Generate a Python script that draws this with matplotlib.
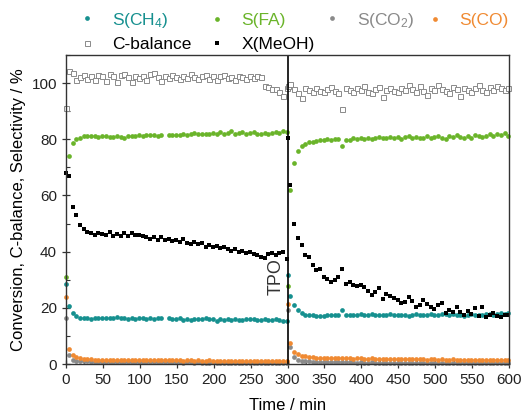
import numpy as np
import matplotlib
matplotlib.use("Agg")
import matplotlib.pyplot as plt

plt.rcParams['font.family'] = ['Liberation Sans', 'DejaVu Sans']
plt.rcParams['mathtext.fontset'] = 'custom'
plt.rcParams['mathtext.rm'] = 'Liberation Sans'
plt.rcParams['mathtext.it'] = 'Liberation Sans:italic'

# ---- time axes (min) ----
t1 = [0.5] + list(range(4, 300, 5))
t2 = [300.5] + list(range(304, 600, 5))

# ---- segment 1 (0-300 min) ----
meoh1 = [68.0, 67.0, 55.8, 53.0, 49.5, 48.0, 47.0, 46.5, 46.0, 46.8,
         46.2, 45.8, 46.9, 45.7, 46.4, 45.6, 46.8, 45.5, 46.6, 45.9,
         45.8, 45.7, 45.2, 44.6, 45.3, 44.2, 45.1, 44.0, 44.6, 43.9,
         44.3, 43.5, 44.5, 43.2, 42.8, 43.6, 42.6, 42.9, 41.8, 42.4,
         41.6, 41.9, 41.2, 41.7, 40.8, 40.4, 41.0, 40.0, 40.3, 39.6,
         39.8, 39.3, 38.8, 38.2, 37.9, 39.2, 39.5, 38.8, 39.6, 39.7,
         37.5]
cbal1 = [91.0, 104.3, 103.6, 101.2, 102.0, 102.8, 101.6, 102.5, 101.0, 103.0,
         102.4, 100.6, 103.2, 102.6, 100.5, 102.8, 103.1, 102.2, 100.4, 102.5,
         101.8, 102.7, 101.2, 103.4, 103.6, 102.3, 100.9, 102.5, 101.8, 103.0,
         102.1, 101.5, 102.6, 101.9, 103.2, 102.0, 101.4, 102.7, 103.0, 101.6,
         102.4, 101.2, 102.5, 102.9, 101.7, 102.3, 101.1, 102.6, 102.0, 101.4,
         102.7, 101.8, 102.5, 102.2, 99.0, 98.6, 97.8, 97.9, 96.8, 95.5,
         98.4]
fa1 = [31.0, 74.0, 78.5, 80.2, 80.6, 81.0, 81.2, 81.1, 81.0, 80.9,
       81.1, 81.0, 80.8, 80.7, 81.1, 80.9, 80.6, 81.0, 81.2, 81.3,
       81.4, 81.2, 81.5, 81.4, 81.6, 81.3, 81.4, np.nan, 81.5, 81.4,
       81.6, 81.5, 81.8, 81.6, 81.9, 82.3, 81.8, 81.7, 82.0, 81.9,
       82.2, 82.0, 82.7, 81.8, 82.1, 82.9, 82.0, 82.3, 82.5, 81.9,
       82.2, 82.6, 82.0, 81.8, 82.4, 82.0, 82.3, 82.6, 82.4, 82.8,
       82.7]
ch4_1 = [28.5, 20.7, 18.2, 17.1, 16.4, 16.2, 16.3, 16.1, 16.4, 16.3,
         16.2, 16.4, 16.5, 16.3, 16.6, 16.4, 16.2, 16.0, 16.3, 16.1,
         16.2, 16.4, 16.0, 16.2, 16.1, 16.3, 16.2, np.nan, 16.3, 15.9,
         16.0, 16.2, 15.8, 16.0, 15.5, 16.1, 15.9, 16.0, 16.3, 15.9,
         16.1, 15.3, 16.0, 15.8, 16.0, 15.7, 15.9, 15.6, 15.8, 15.9,
         16.1, 15.9, 15.7, 15.8, 16.0, 15.7, 15.8, 15.9, 15.6, 15.4,
         15.2]
co1 = [24.0, 5.2, 3.1, 2.4, 2.0, 1.8, 1.7, 1.7, 1.6, 1.6,
       1.5, 1.6, 1.5, 1.5, 1.4, 1.5, 1.4, 1.5, 1.4, 1.4,
       1.5, 1.4, 1.3, 1.4, 1.4, 1.3, 1.4, 1.3, 1.3, 1.4,
       1.3, 1.3, 1.2, 1.3, 1.3, 1.2, 1.3, 1.2, 1.2, 1.3,
       1.2, 1.2, 1.1, 1.2, 1.2, 1.1, 1.2, 1.1, 1.1, 1.2,
       1.1, 1.1, 1.0, 1.1, 1.1, 1.0, 1.1, 1.0, 1.0, 1.1,
       1.0]
co2_1 = [16.5, 3.2, 1.6, 1.2, 1.0, 0.9, 0.9, 0.8, 0.8, 0.8,
         0.8, 0.7, 0.8, 0.7, 0.7, 0.7, 0.7, 0.7, 0.6, 0.7,
         0.7, 0.6, 0.7, 0.6, 0.6, 0.6, 0.6, 0.6, 0.6, 0.6,
         0.6, 0.6, 0.5, 0.6, 0.6, 0.5, 0.6, 0.5, 0.5, 0.5,
         0.6, 0.5, 0.5, 0.5, 0.5, 0.5, 0.5, 0.5, 0.5, 0.5,
         0.5, 0.4, 0.5, 0.5, 0.4, 0.5, 0.4, 0.4, 0.5, 0.4,
         0.4]

# ---- segment 2 (300-600 min, after TPO) ----
meoh2 = [80.6, 63.8, 50.0, 44.8, 42.2, 38.7, 38.2, 35.2, 33.5, 33.8,
         31.0, 30.2, 29.2, 29.8, 31.0, 33.7, 28.6, 29.2, 28.0, 27.6,
         28.3, 27.4, 26.0, 24.5, 25.6, 27.2, 23.3, 24.8, 24.2, 23.5,
         22.7, 21.6, 22.1, 23.9, 22.4, 20.3, 21.0, 22.7, 21.4, 20.3,
         19.6, 20.9, 21.7, 18.0, 19.2, 18.6, 20.3, 18.4, 17.4, 18.7,
         17.9, 20.0, 17.2, 20.3, 16.8, 17.5, 18.0, 17.1, 16.8, 17.6,
         17.4]
cbal2 = [99.0, 99.5, 97.8, 96.4, 94.6, 98.2, 97.5, 96.9, 98.4, 97.3,
         96.8, 97.9, 98.6, 97.2, 96.5, 90.7, 98.1, 97.4, 96.8, 98.3,
         97.6, 98.9, 97.0, 96.3, 97.8, 98.5, 95.2, 97.6, 98.4, 97.1,
         96.9, 98.2, 97.5, 99.2, 97.8, 96.7, 98.8, 97.3, 95.6, 98.1,
         97.5, 99.4, 98.0, 97.2, 96.6, 98.6, 97.9, 95.5, 98.3, 97.4,
         96.8, 98.1, 99.3, 97.7, 96.9, 98.5, 97.6, 99.0, 98.2, 97.5,
         98.3]
fa2 = [27.8, 62.0, 71.5, 75.8, 77.6, 78.4, 78.9, 79.2, 79.4, 79.6,
       79.8, 80.0, 79.7, 80.1, 80.2, 77.7, 79.6, 79.9, 80.3, 80.0,
       80.4, 80.1, 80.6, 80.2, 80.5, 80.8, 80.3, 80.6, 80.9, 80.4,
       80.7, 80.2, 80.9, 81.2, 80.5, 80.8, 80.3, 80.6, 81.0, 80.4,
       80.9, 81.3, 80.6, 80.2, 81.0, 80.7, 81.4, 80.8, 80.3, 81.1,
       80.6, 81.5, 81.0, 80.7, 81.3, 81.8, 81.2, 82.0, 81.6, 82.3,
       81.0]
ch4_2 = [31.6, 24.2, 20.9, 19.1, 18.0, 17.6, 17.4, 17.3, 17.2, 17.0,
         17.2, 17.4, 17.5, 17.3, 17.6, 19.1, 17.4, 17.6, 17.3, 17.5,
         17.7, 17.4, 17.6, 17.8, 17.3, 17.5, 17.6, 17.4, 17.8, 17.5,
         17.3, 17.6, 17.4, 17.2, 17.5, 17.7, 17.4, 17.3, 17.6, 17.8,
         17.6, 17.4, 17.9, 17.7, 17.5, 17.8, 17.6, 17.4, 17.2, 17.6,
         17.8, 17.5, 17.3, 17.6, 17.9, 17.7, 17.5, 17.8, 18.1, 17.9,
         18.3]
co2 = [21.3, 7.6, 4.4, 3.5, 3.0, 2.7, 2.5, 2.4, 2.3, 2.3,
       2.2, 2.2, 2.1, 2.1, 2.0, 2.1, 2.0, 2.0, 1.9, 2.0,
       2.0, 1.9, 1.9, 2.0, 1.8, 1.9, 1.9, 1.8, 1.8, 1.9,
       1.8, 1.8, 1.7, 1.8, 1.7, 1.8, 1.7, 1.7, 1.6, 1.7,
       1.7, 1.6, 1.7, 1.6, 1.6, 1.7, 1.6, 1.5, 1.6, 1.6,
       1.5, 1.6, 1.5, 1.5, 1.6, 1.5, 1.4, 1.5, 1.5, 1.4,
       1.5]
co2_2 = [19.4, 6.1, 2.6, 1.6, 1.2, 1.0, 0.9, 0.8, 0.8, 0.7,
         0.7, 0.7, 0.6, 0.7, 0.6, 0.6, 0.6, 0.6, 0.6, 0.5,
         0.6, 0.5, 0.5, 0.6, 0.5, 0.5, 0.5, 0.5, 0.5, 0.5,
         0.5, 0.5, 0.4, 0.5, 0.5, 0.4, 0.5, 0.4, 0.4, 0.5,
         0.4, 0.4, 0.4, 0.5, 0.4, 0.4, 0.4, 0.4, 0.4, 0.4,
         0.4, 0.4, 0.3, 0.4, 0.4, 0.4, 0.3, 0.4, 0.4, 0.3,
         0.4]

time = np.array(t1 + t2, dtype=float)
series = {
    'cbal': np.array(cbal1 + cbal2),
    'meoh': np.array(meoh1 + meoh2),
    'fa': np.array(fa1 + fa2),
    'ch4': np.array(ch4_1 + ch4_2),
    'co2': np.array(co2_1 + co2_2),
    'co': np.array(co1 + co2),
}

C_TEAL = '#16908f'
C_GREEN = '#6ab42a'
C_GRAY = '#8a8a8a'
C_ORANGE = '#f08a32'

fig = plt.figure(figsize=(5.21, 4.20), dpi=100)
ax = fig.add_axes([66/521, 1-364/420, 443/521, 309/420])

ms = 3.4
h_cbal, = ax.plot(time, series['cbal'], 's', ms=3.6, mfc='white', mec=C_GRAY, mew=0.7, ls='none', clip_on=False, label='C-balance')
h_co2, = ax.plot(time, series['co2'], 'o', ms=ms, color=C_GRAY, mew=0, ls='none', clip_on=False, label='S(CO$_2$)')
h_co, = ax.plot(time, series['co'], 'o', ms=ms, color=C_ORANGE, mew=0, ls='none', clip_on=False, label='S(CO)')
h_ch4, = ax.plot(time, series['ch4'], 'o', ms=ms, color=C_TEAL, mew=0, ls='none', clip_on=False, label='S(CH$_4$)')
h_fa, = ax.plot(time, series['fa'], 'o', ms=ms, color=C_GREEN, mew=0, ls='none', clip_on=False, label='S(FA)')
h_meoh, = ax.plot(time, series['meoh'], 's', ms=3.4, color='black', mew=0, ls='none', clip_on=False, label='X(MeOH)')

ax.axvline(300, color='black', lw=1.2)
ax.text(284, 31, 'TPO', rotation=90, ha='center', va='center', fontsize=13, color='#333333')

ax.set_xlim(0, 600)
ax.set_ylim(0, 110)
ax.set_xticks(range(0, 601, 50))
ax.set_xticks(range(0, 601, 25), minor=True)
ax.set_yticks(range(0, 101, 20))
ax.set_yticks(range(0, 111, 10), minor=True)
ax.tick_params(which='major', direction='inout', length=6, width=0.9, labelsize=11, colors='#333333', labelcolor='#222222')
ax.tick_params(which='minor', direction='in', length=3, width=0.8, colors='#333333')
for s in ax.spines.values():
    s.set_linewidth(1.0)
    s.set_color('#333333')

ax.set_xlabel('Time / min', fontsize=12, labelpad=8)
ax.set_ylabel('Conversion, C-balance, Selectivity / %', fontsize=12, labelpad=4)

# legend entries placed individually (x of column start, y of row centre, in pixels)
entries = [(h_ch4, C_TEAL, 78, 20), (h_fa, C_GREEN, 208, 20),
           (h_co2, C_GRAY, 323, 20), (h_co, C_ORANGE, 426, 20),
           (h_cbal, 'black', 78, 44), (h_meoh, 'black', 208, 44)]
for h, c, x0, y0 in entries:
    lg = fig.legend(handles=[h], loc='center left', bbox_to_anchor=(x0/521, 1-y0/420),
                    frameon=False, fontsize=12.5, handlelength=1.0, handletextpad=0.94,
                    borderaxespad=0, borderpad=0)
    lg.get_texts()[0].set_color(c)

fig.savefig('out.png', dpi=100)
